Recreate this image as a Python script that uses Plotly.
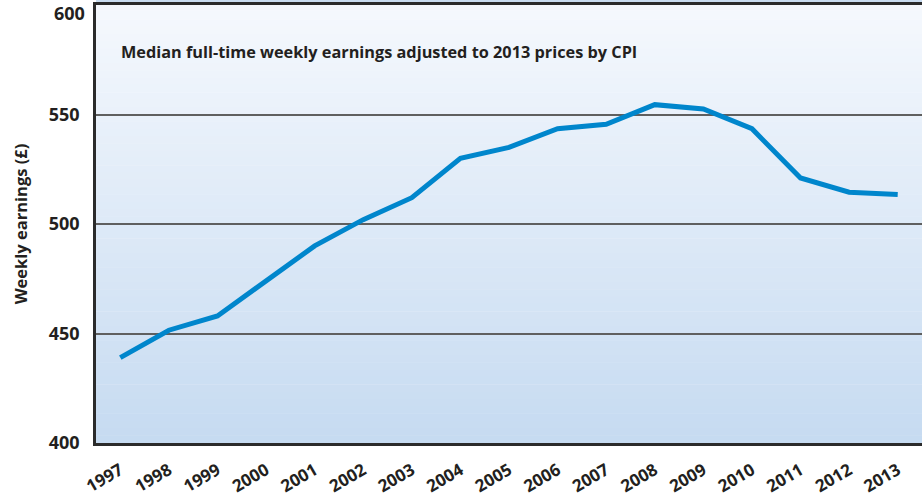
import plotly.graph_objects as go

years = [str(y) for y in range(1997, 2014)]
earnings = [439, 451.5, 458, 474, 490, 502, 512, 530, 535, 543.5, 545.5,
            554.5, 552.5, 543.5, 521, 514.5, 513.5]
y_ticks = [400, 450, 500, 550, 600]
title_text = "Median full-time weekly earnings adjusted to 2013 prices by CPI"
y_title = "Weekly earnings (£)"

FONT = "Open Sans"
TXT = "#231f20"

fig = go.Figure()
fig.add_trace(go.Scatter(
    x=years, y=earnings, mode="lines",
    line=dict(color="#0086cc", width=5),
    hoverinfo="x+y", showlegend=False,
))

# vertical gradient background
top = (245, 248, 253)
bot = (198, 219, 241)
n = 60
shapes = []
for i in range(n):
    t = i / (n - 1)
    c = tuple(round(top[k] + (bot[k] - top[k]) * t) for k in range(3))
    shapes.append(dict(
        type="rect", xref="x domain", yref="y domain",
        x0=0, x1=1, y0=1 - (i + 1) / n, y1=1 - i / n + 0.001,
        fillcolor="rgb(%d,%d,%d)" % c, line=dict(width=0), layer="below",
    ))
# thin strip above the plot (from panel above)
shapes.append(dict(type="rect", xref="paper", yref="paper", x0=0, x1=1,
                   y0=1, y1=1.015, fillcolor="#c9dcf0", line=dict(width=0),
                   layer="below"))

fig.update_layout(
    width=922, height=501,
    margin=dict(l=96, r=0, t=5, b=58, autoexpand=False),
    paper_bgcolor="white", plot_bgcolor="rgba(0,0,0,0)",
    shapes=shapes,
    font=dict(family=FONT, color=TXT),
    annotations=[
        dict(text="<b>%s</b>" % title_text, xref="paper", yref="paper",
             x=0.028, y=0.893, xanchor="left", yanchor="middle",
             showarrow=False, font=dict(family=FONT, size=16.3, color=TXT)),
        # top tick label, nudged down to stay inside the page
        dict(text="<b>%d</b>" % y_ticks[-1], xref="paper", yref="y",
             x=0, y=y_ticks[-1], xanchor="right", yanchor="middle",
             xshift=-10, yshift=-8, borderpad=0, showarrow=False,
             font=dict(family=FONT, size=18, color=TXT)),
    ],
)
fig.update_xaxes(
    type="category", range=[-0.5, 16.5], automargin=False,
    showgrid=False, showline=True, mirror=True,
    linecolor="#2b2b2b", linewidth=3,
    ticks="", tickangle=-30, ticklabelstandoff=8,
    tickfont=dict(family=FONT, size=17, color=TXT, weight="bold"),
)
fig.update_yaxes(
    range=[400, 600], tickvals=y_ticks[:-1], automargin=False,
    showgrid=True, gridcolor="#5f5f5f", gridwidth=1.5,
    showline=True, linecolor="#2b2b2b", linewidth=2.5,
    zeroline=False, ticks="outside", ticklen=10, tickcolor="rgba(0,0,0,0)",
    tickfont=dict(family=FONT, size=18, color=TXT, weight="bold"),
    title=dict(text="<b>%s</b>" % y_title, standoff=17,
               font=dict(family=FONT, size=16.5, color=TXT)),
)

fig.write_html(
    "out.html",
    config={"displayModeBar": False},
    post_script="document.body.style.margin='0';document.body.style.overflow='hidden';",
)
